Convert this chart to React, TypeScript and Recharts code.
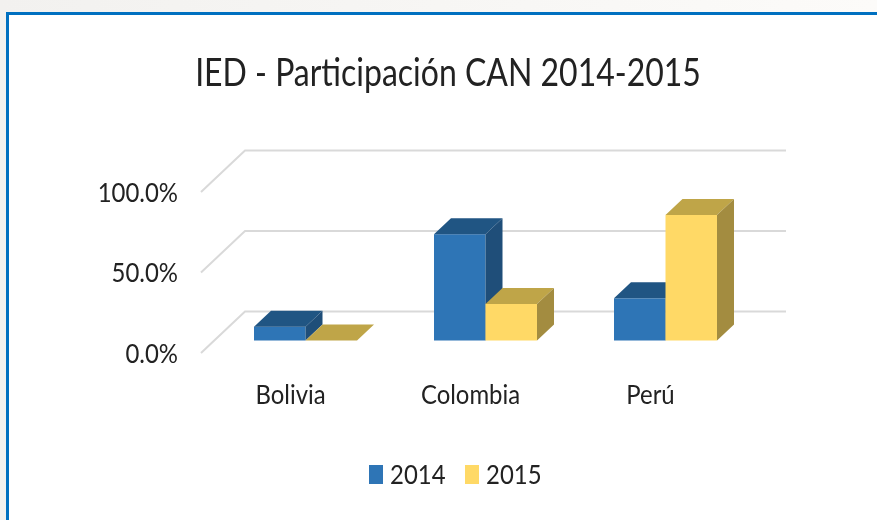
import { BarChart, Bar, XAxis, YAxis, CartesianGrid, Legend } from "recharts";

const categories = ["Bolivia", "Colombia", "Perú"];
const values2014 = [8.6, 66, 26.2];
const values2015 = [0, 22.7, 78];
const yTicks = [0, 50, 100];

const chartData = categories.map((name, i) => ({
  name,
  "2014": values2014[i],
  "2015": values2015[i],
}));

const FONT = "Lato, sans-serif";
const TEXT = "#222";
const LABEL_SIZE = 27.5;
const SQUEEZE = 0.87; // the original type is narrower than Lato

const seriesColors: Record<string, { front: string; top: string; side: string }> = {
  "2014": { front: "#2e75b6", top: "#205583", side: "#1f4e79" },
  "2015": { front: "#ffd966", top: "#bfa548", side: "#a38c40" },
};

// 3D box: front face comes from the bar scale, depth is a fixed offset
const DX = 17;
const DY = -16;

const makeBox = (key: string) => (props: any) => {
  const { x, y, width, height } = props;
  const c = seriesColors[key];
  return (
    <g>
      <rect x={x} y={y} width={width} height={height} fill={c.front} />
      <polygon
        points={`${x},${y} ${x + DX},${y + DY} ${x + width + DX},${y + DY} ${x + width},${y}`}
        fill={c.top}
      />
      <polygon
        points={`${x + width},${y} ${x + width + DX},${y + DY} ${x + width + DX},${y + height + DY} ${x + width},${y + height}`}
        fill={c.side}
      />
    </g>
  );
};

// gridline that runs along the side wall and then the back wall
const WallLine = (props: any) => {
  const { x1, x2, y1 } = props;
  return (
    <path
      key={props.key}
      d={`M${x1 - 14},${y1 + 12.5} L${x1 + 30},${y1 - 29} L${x2 + 31},${y1 - 29}`}
      fill="none"
      stroke="#d9d9d9"
      strokeWidth={2}
    />
  );
};

const YTick = (props: any) => {
  const { y, payload } = props;
  return (
    <text
      transform={`translate(178,${y + 12.5}) scale(${SQUEEZE},1)`}
      dy="0.36em"
      textAnchor="end"
      fontFamily={FONT}
      fontSize={LABEL_SIZE}
      fill={TEXT}
    >
      {payload.value.toFixed(1)}%
    </text>
  );
};

const XTick = (props: any) => {
  const { x, payload } = props;
  return (
    <text
      transform={`translate(${x - 14.5},394) scale(${SQUEEZE},1)`}
      dy="0.36em"
      textAnchor="middle"
      fontFamily={FONT}
      fontSize={LABEL_SIZE}
      fill={TEXT}
    >
      {payload.value}
    </text>
  );
};

const LegendBox = () => (
  <div style={{ height: 0, position: "relative" }}>
    {Object.keys(seriesColors).map((key, i) => (
      <div key={key}>
        <div
          style={{
            position: "absolute",
            left: 369 + i * 96,
            top: 465,
            width: 14,
            height: 19,
            background: seriesColors[key].front,
          }}
        />
        <div
          style={{
            position: "absolute",
            left: 390 + i * 96,
            top: 458,
            fontFamily: FONT,
            fontSize: LABEL_SIZE,
            lineHeight: "32px",
            color: TEXT,
            transform: `scaleX(${SQUEEZE})`,
            transformOrigin: "left center",
          }}
        >
          {key}
        </div>
      </div>
    ))}
  </div>
);

export default function App() {
  return (
    <div
      style={{
        position: "absolute",
        left: 0,
        top: 0,
        width: 877,
        height: 520,
        background: "linear-gradient(90deg, #f2f1ef, #fcfbf9)",
        overflow: "hidden",
      }}
    >
      <div
        style={{
          position: "absolute",
          left: 6,
          top: 12,
          width: 871,
          height: 508,
          boxSizing: "border-box",
          background: "#fff",
          borderTop: "3px solid #0070c0",
          borderLeft: "3px solid #0070c0",
        }}
      />
      <div
        style={{
          position: "absolute",
          left: 0,
          width: 896,
          top: 48,
          textAlign: "center",
          fontFamily: FONT,
          fontSize: 39,
          lineHeight: "46px",
          color: TEXT,
          transform: "scaleX(0.82)",
        }}
      >
        IED - Participación CAN 2014-2015
      </div>
      <div style={{ position: "absolute", left: 0, top: 0, filter: "blur(0.4px)" }}>
        <BarChart
          width={877}
          height={520}
          data={chartData}
          barSize={51.5}
          barGap={0}
          margin={{ top: 179.5, right: 122, bottom: 119.5, left: 0 }}
        >
          <CartesianGrid vertical={false} horizontal={WallLine} />
          <XAxis dataKey="name" height={60} axisLine={false} tickLine={false} tick={<XTick />} />
          <YAxis width={215} domain={[0, 100]} ticks={yTicks} axisLine={false} tickLine={false} tick={<YTick />} />
          <Legend content={<LegendBox />} wrapperStyle={{ left: 0, top: 0, bottom: "auto", width: 877 }} />
          <Bar dataKey="2014" isAnimationActive={false} shape={makeBox("2014")} />
          <Bar dataKey="2015" isAnimationActive={false} shape={makeBox("2015")} />
        </BarChart>
      </div>
    </div>
  );
}
